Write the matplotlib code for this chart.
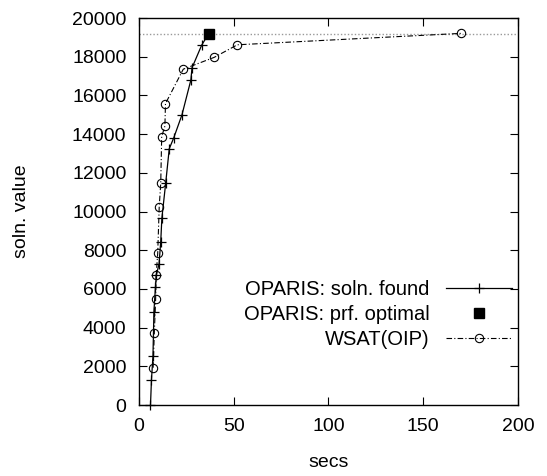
import matplotlib
matplotlib.use('Agg')
import matplotlib.pyplot as plt

plt.rcParams['font.family'] = ['Liberation Sans', 'DejaVu Sans']
plt.rcParams['font.size'] = 14

# OPARIS: solutions found (secs, value)
oparis_secs = [6.1, 6.6, 7.4, 7.9, 8.7, 9.2, 10.6, 11.5, 12.1, 14.1, 16.0,
               18.4, 22.7, 27.4, 28.0, 33.1, 36.8]
oparis_vals = [0, 1290, 2530, 4810, 6100, 6720, 7290, 8450, 9660, 11460,
               13250, 13820, 15000, 16800, 17430, 18600, 19200]

# OPARIS: proved optimal
opt_secs = [36.8]
opt_vals = [19200]

# WSAT(OIP)
wsat_secs = [7.5, 8.1, 8.8, 9.1, 9.9, 10.7, 11.5, 12.0, 13.7, 14.0, 23.4,
             39.7, 51.9, 169.9]
wsat_vals = [1930, 3700, 5460, 6720, 7840, 10250, 11460, 13870, 14420,
             15580, 17360, 17970, 18620, 19210]

optimum = 19200

fig = plt.figure(figsize=(5.47, 4.76), dpi=100)
ax = fig.add_axes([0.254, 0.149, 0.693, 0.813])

ax.axhline(optimum, color='#999999', linestyle=(0, (1, 1.5)), linewidth=1.0)

ax.plot(oparis_secs, oparis_vals, color='black', linewidth=0.9,
        marker='+', markersize=7, markeredgewidth=0.9, clip_on=False,
        label='OPARIS: soln. found')
ax.plot(opt_secs, opt_vals, linestyle='none', marker='s', markersize=6.5,
        color='black', label='OPARIS: prf. optimal')
ax.plot(wsat_secs, wsat_vals, color='black', linewidth=0.8,
        linestyle=(0, (5, 2, 1, 2)), marker='o', markersize=6,
        markerfacecolor='none', markeredgewidth=0.8,
        label='WSAT(OIP)')

ax.set_xlim(0, 200)
ax.set_ylim(0, 20000)
ax.set_xticks(range(0, 201, 50))
ax.set_yticks(range(0, 20001, 2000))
ax.tick_params(direction='in', length=6, top=True, right=True, pad=9)
for s in ax.spines.values():
    s.set_linewidth(1.0)

ax.set_xlabel('secs', labelpad=14)
ax.set_ylabel('soln. value', labelpad=30)

leg = ax.legend(loc='lower right', bbox_to_anchor=(1.0, 0.13), frameon=False,
                markerfirst=False, handlelength=3.3, labelspacing=0.28,
                borderpad=0, borderaxespad=0.3, handletextpad=0.8,
                fontsize=14.5)

fig.savefig('out.png', dpi=100)
